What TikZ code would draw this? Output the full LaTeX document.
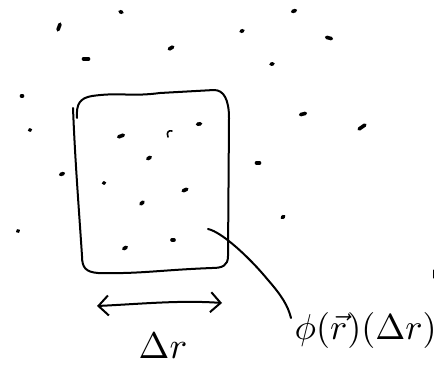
\documentclass[tikz,border=0pt]{standalone}
\usetikzlibrary{arrows.meta}
\tikzset{
  ink/.style={line width=2pt, line cap=round, line join=round},
  speck/.style={line width=3.6pt, line cap=round},
  lbl/.style={inner sep=0pt}
}
\begin{document}
\begin{tikzpicture}[x=1pt,y=-1pt]
\useasboundingbox (0,0) rectangle (441,366);
% scattered specks: x/y/angle/length (negative angle = rising to the right)
\foreach \x/\y/\a/\l in {
  59/27/-70/6, 121/12/20/2, 294/11/-20/3, 242/31/-20/2, 329/38/15/5,
  171/48/-30/4, 86/59/0/5, 272/64/-10/2, 22/96/0/1, 30/130/-20/1,
  121/136/-20/5, 199/124/-10/3, 149/158/-30/3, 62/174/-20/3,
  303/114/-15/5, 362/127/-35/7, 258/163/0/3,
  104/183/-10/1, 185/190/-25/4, 142/203/-40/3, 18/231/-30/1,
  283/217/-40/2, 125/248/-30/3, 173/240/0/2}
  \draw[speck] (\x,\y) ++(\a:-\l/2) -- ++(\a:\l);
\draw[ink, line width=1.6pt] (168,137) .. controls (166,132) and (169,130) .. (172,131);
% the box
\draw[ink] (77,118) .. controls (76,104) and (80,98) .. (92,96)
  .. controls (120,92) and (130,97) .. (160,93) -- (214,90)
  .. controls (224,90) and (229,100) .. (229,118) -- (228,256)
  .. controls (228,266) and (222,268) .. (212,268)
  .. controls (160,270) and (140,274) .. (98,273)
  .. controls (86,272) and (82,268) .. (82,256);
\draw[ink] (73,108) .. controls (75,160) and (79,210) .. (82,256);
% width arrow
\coordinate (aL) at (97,306);
\coordinate (aR) at (222,303);
\draw[ink, {Straight Barb[length=10pt,width=20pt]}-{Straight Barb[length=10pt,width=20pt]}]
  (aL) .. controls (140,304) and (180,300) .. (aR);
\node[lbl, scale=3.7] (dr) at (163,346) {$\Delta r$};
% labelled point and its label
\coordinate (pt) at (208,229);
\node[lbl, scale=3.6, anchor=west] (phi) at (294,330) {$\phi(\vec r)(\Delta r)$};
\draw[ink] (pt) .. controls (222,232) and (250,258) .. (268,280)
  .. controls (282,296) and (288,306) .. (291,318);
\draw[ink, line width=1pt] (433,270) -- (433,278);
\end{tikzpicture}
\end{document}
